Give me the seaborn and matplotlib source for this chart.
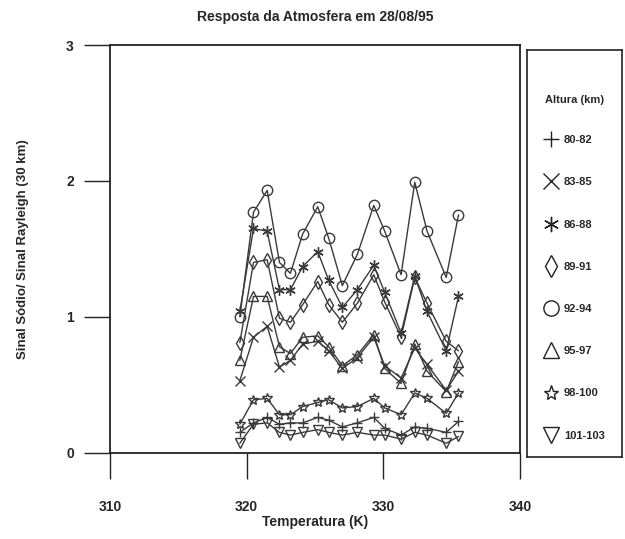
import matplotlib
matplotlib.use("Agg")
import matplotlib.pyplot as plt
from matplotlib.lines import Line2D
import pandas as pd
import seaborn as sns

# Temperatures (K)
temps = [319.5, 320.5, 321.5, 322.4, 323.2, 324.1, 325.2, 326.0, 327.0,
         328.1, 329.3, 330.1, 331.3, 332.3, 333.2, 334.6, 335.5]

# Sodium / Rayleigh signal ratio for each altitude band
alt_80_82 = [0.15, 0.22, 0.26, 0.21, 0.22, 0.22, 0.26, 0.24, 0.19,
             0.22, 0.26, 0.18, 0.13, 0.19, 0.18, 0.15, 0.23]
alt_83_85 = [0.53, 0.85, 0.93, 0.63, 0.68, 0.80, 0.82, 0.75, 0.62,
             0.70, 0.85, 0.64, 0.55, 0.77, 0.65, 0.46, 0.60]
alt_86_88 = [1.04, 1.65, 1.63, 1.20, 1.20, 1.37, 1.48, 1.27, 1.07,
             1.20, 1.38, 1.18, 0.88, 1.30, 1.04, 0.75, 1.15]
alt_89_91 = [0.81, 1.40, 1.42, 0.99, 0.96, 1.09, 1.26, 1.09, 0.96,
             1.10, 1.31, 1.11, 0.85, 1.29, 1.10, 0.82, 0.75]
alt_92_94 = [1.00, 1.77, 1.93, 1.40, 1.32, 1.61, 1.81, 1.58, 1.23,
             1.46, 1.82, 1.63, 1.31, 1.99, 1.63, 1.29, 1.75]
alt_95_97 = [0.68, 1.15, 1.15, 0.78, 0.73, 0.85, 0.86, 0.78, 0.64,
             0.72, 0.87, 0.62, 0.51, 0.80, 0.60, 0.45, 0.67]
alt_98_100 = [0.21, 0.39, 0.40, 0.28, 0.28, 0.34, 0.37, 0.39, 0.33,
              0.34, 0.40, 0.33, 0.28, 0.44, 0.40, 0.29, 0.44]
alt_101_103 = [0.07, 0.21, 0.22, 0.15, 0.13, 0.15, 0.17, 0.15, 0.13,
               0.15, 0.13, 0.13, 0.10, 0.15, 0.13, 0.07, 0.12]

labels = ["80-82", "83-85", "86-88", "89-91", "92-94", "95-97", "98-100", "101-103"]
series = [alt_80_82, alt_83_85, alt_86_88, alt_89_91, alt_92_94, alt_95_97,
          alt_98_100, alt_101_103]
markers = ["+", "x", (6, 2, 0), "d", "o", "^", "*", "v"]

sns.set_style("ticks")
plt.rcParams["font.family"] = ["Liberation Sans", "DejaVu Sans"]

fig = plt.figure(figsize=(6.25, 5.39), dpi=100)
ax = fig.add_axes([0.176, 0.16, 0.656, 0.7565])

ink = "#3a3a3a"
for lab, vals, mk in zip(labels, series, markers):
    df = pd.DataFrame({"temp": temps, "ratio": vals})
    sns.lineplot(data=df, x="temp", y="ratio", ax=ax, color=ink, linewidth=1.0,
                 marker=mk, markersize=7.5, markerfacecolor="none",
                 markeredgecolor=ink, markeredgewidth=1.0, legend=False)

ax.set_xlim(310, 340)
ax.set_ylim(0, 3)
ax.set_xticks([310, 320, 330, 340])
ax.set_yticks([0, 1, 2, 3])
for s in ax.spines.values():
    s.set_visible(True)
    s.set_linewidth(1.3)
    s.set_color("#222222")
ax.tick_params(axis="both", direction="out", length=19, width=1.0, color="#222222",
               labelsize=10)
ax.tick_params(axis="x", pad=15)
ax.tick_params(axis="y", pad=7)
for t in ax.get_xticklabels() + ax.get_yticklabels():
    t.set_fontweight("bold")

ax.set_xlabel("Temperatura (K)", fontsize=10, fontweight="bold", labelpad=1)
ax.set_ylabel("Sinal Sódio/ Sinal Rayleigh (30 km)", fontsize=9.5, fontweight="bold",
              labelpad=27)
ax.set_title("Resposta da Atmosfera em 28/08/95", fontsize=10, fontweight="bold", pad=17)

# separate boxed legend on the right
lax = fig.add_axes([527 / 625, 1 - 457 / 539, 95 / 625, 407 / 539])
lax.set_xticks([])
lax.set_yticks([])
for s in lax.spines.values():
    s.set_linewidth(1.2)
    s.set_color("#222222")
handles = [Line2D([], [], linestyle="none", marker=mk, markersize=11,
                  markerfacecolor="none", markeredgecolor="#222222",
                  markeredgewidth=1.0) for mk in markers]
leg = lax.legend(handles, labels, title="Altura (km)", loc="upper center",
                 bbox_to_anchor=(0.5, 0.915), frameon=False, labelspacing=2.9,
                 handletextpad=0.6, handlelength=1.2,
                 prop={"family": ["Liberation Sans Narrow", "Liberation Sans"],
                       "weight": "bold", "size": 8})
leg.get_title().set_fontweight("bold")
leg.get_title().set_fontsize(8)
leg.get_title().set_family(["Liberation Sans Narrow", "Liberation Sans"])
leg._legend_box.sep = 22

fig.savefig("out.png", dpi=100)
